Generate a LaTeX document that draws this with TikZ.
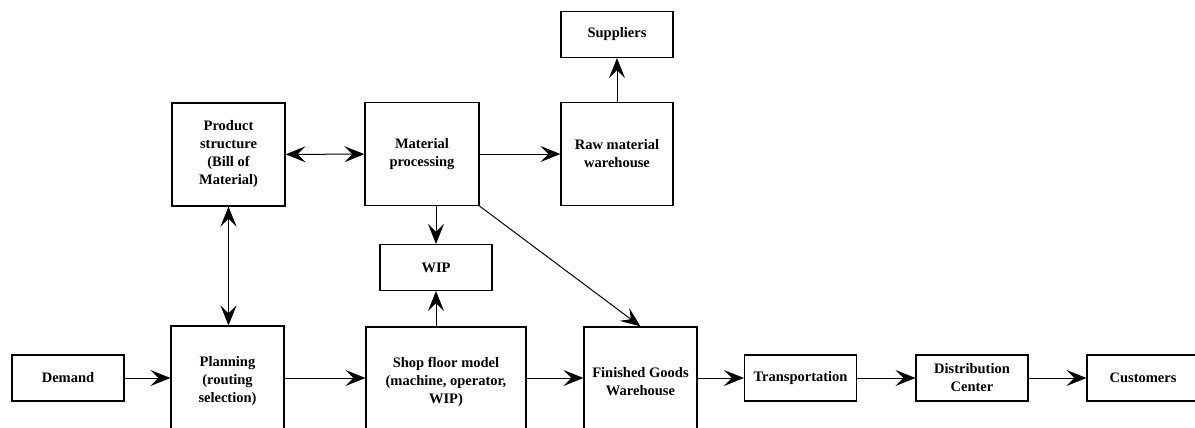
\documentclass[tikz,border=0pt]{standalone}
\usepackage{fontspec}
\setmainfont{Liberation Serif}
\usetikzlibrary{arrows.meta,positioning}

\begin{document}
\begin{tikzpicture}[x=1pt, y=-1pt,
    block/.style={draw, line width=1.2pt, align=center, inner sep=0pt,
        font=\bfseries\fontsize{14.5}{18}\selectfont},
    small/.style={block, minimum width=112, minimum height=46},
    tall/.style={block, minimum width=113, minimum height=103},
    flow/.style={-{Stealth[length=20pt, width=16pt, inset=8pt]}, line width=1pt},
    twoway/.style={{Stealth[length=20pt, width=16pt, inset=8pt]}-{Stealth[length=20pt, width=16pt, inset=8pt]}, line width=1pt}]
                    \useasboundingbox (0, 0) rectangle (1195, 428);
                    \clip (0, 0) rectangle (1195, 428);
                    \node[small] (demand) at (68, 378) {Demand};
                    \node[block, minimum width=113, minimum height=110] (planning) at (227.5, 381) {Planning\\(routing\\selection)};
                    \node[block, minimum width=160, minimum height=110] (shop) at (446, 382) {Shop floor model\\(machine, operator,\\WIP)};
                    \node[block, minimum width=113, minimum height=110] (goods) at (640.5, 382) {Finished Goods\\Warehouse};
                    \node[small] (transport) at (800.5, 378) {Transportation};
                    \node[small] (center) at (972, 378) {Distribution\\Center};
                    \node[small] (customers) at (1143, 378) {Customers};
                    \node[small] (wip) at (436, 267.5) {WIP};
                    \node[tall] (product) at (228.5, 154.5) {Product\\structure\\(Bill of\\Material)};
                    \node[tall, minimum width=114] (material) at (422, 154) {Material\\processing};
                    \node[tall, minimum width=112] (raw) at (617, 154) {Raw material\\warehouse};
                    \node[small] (suppliers) at (617, 34.5) {Suppliers};
                    \draw[flow] (demand.east) -- (demand.east -| planning.west);
                    \draw[flow] (demand.east -| planning.east) -- (demand.east -| shop.west);
                    \draw[flow] (demand.east -| shop.east) -- (demand.east -| goods.west);
                    \draw[flow] (demand.east -| goods.east) -- (transport.west);
                    \draw[flow] (transport) -- (center);
                    \draw[flow] (center) -- (customers);
                    \draw[flow] (wip.south |- shop.north) -- (wip.south);
                    \draw[flow] (wip.north |- material.south) -- (wip.north);
                    \draw[flow] (material.south east) -- (goods.north);
                    \draw[flow] (material) -- (raw);
                    \draw[flow] (raw) -- (suppliers);
                    \draw[twoway] (product) -- (material);
                    \draw[twoway] (product.south) -- (product.south |- planning.north);
\end{tikzpicture}
\end{document}
